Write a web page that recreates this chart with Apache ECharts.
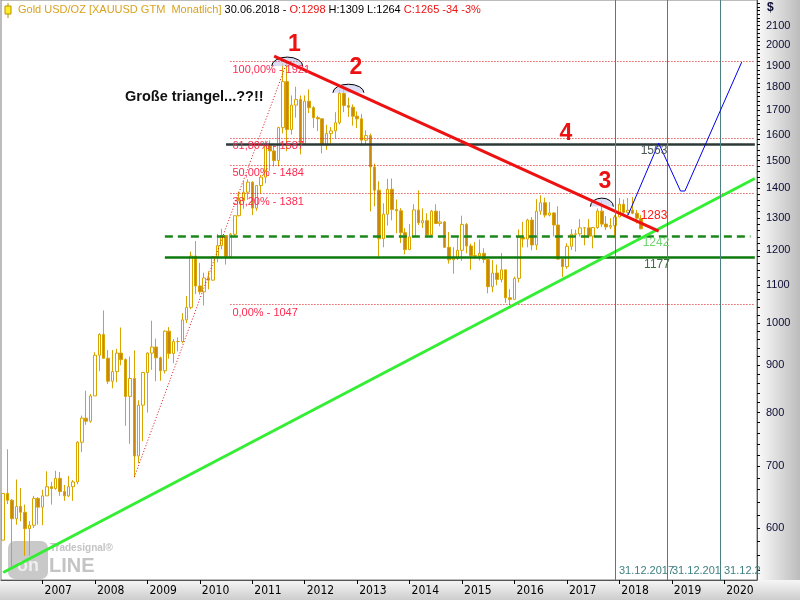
<!DOCTYPE html>
<html><head><meta charset="utf-8">
<script src="https://cdn.jsdelivr.net/npm/echarts@6/dist/echarts.min.js"></script>
<style>html,body{margin:0;padding:0;background:#fff}#c{width:800px;height:600px}</style>
</head><body><div id="c"></div>
<script>
// ---- DATA: monthly candles [open, high, low, close] ----
const g2006 = [[582,654,582,654],[654,730,637,643],[643,645,543,614],[614,677,605,633],[633,663,610,624],[624,636,560,599],[599,610,560,604],[604,650,600,646],[646,648,605,632]];
const g2007 = [[632,660,604,650],[650,691,650,665],[665,673,636,662],[662,692,660,679],[679,690,650,657],[657,668,642,650],[650,683,648,665],[665,676,642,673],[673,745,669,743],[743,794,725,789],[789,845,776,783],[783,838,780,834]];
const g2008 = [[834,930,834,923],[923,975,887,972],[972,1032,918,916],[916,935,859,865],[865,935,850,886],[886,938,863,928],[928,989,900,913],[913,916,774,833],[833,920,740,871],[871,934,681,718],[718,825,705,815],[815,885,745,884]];
const g2009 = [[884,930,800,928],[928,1006,890,942],[942,962,865,917],[917,920,866,888],[888,982,882,980],[980,990,915,927],[927,961,905,955],[955,965,932,955],[955,1025,951,1008],[1008,1070,1000,1040],[1040,1195,1035,1182],[1182,1227,1075,1097]];
const g2010 = [[1097,1162,1074,1081],[1081,1134,1045,1119],[1119,1138,1088,1113],[1113,1180,1112,1180],[1180,1249,1164,1213],[1213,1265,1202,1244],[1244,1244,1157,1181],[1181,1252,1175,1248],[1248,1307,1242,1307],[1307,1388,1305,1357],[1357,1424,1330,1386],[1386,1431,1360,1421]];
const g2011 = [[1421,1424,1309,1332],[1332,1411,1323,1409],[1409,1447,1381,1439],[1439,1576,1417,1556],[1556,1577,1462,1536],[1536,1556,1478,1500],[1500,1632,1478,1628],[1628,1913,1605,1826],[1826,1921,1535,1620],[1620,1764,1600,1722],[1722,1803,1669,1746],[1746,1764,1523,1564]];
const g2012 = [[1564,1764,1562,1739],[1739,1791,1688,1711],[1711,1718,1627,1669],[1669,1677,1614,1664],[1664,1667,1527,1561],[1561,1640,1540,1604],[1604,1630,1564,1615],[1615,1692,1585,1648],[1648,1790,1641,1773],[1773,1796,1692,1720],[1720,1755,1672,1713],[1713,1725,1636,1675]];
const g2013 = [[1675,1695,1626,1664],[1664,1684,1555,1578],[1578,1617,1562,1596],[1596,1604,1321,1476],[1476,1488,1338,1393],[1393,1424,1180,1234],[1234,1348,1208,1312],[1312,1433,1275,1396],[1396,1434,1292,1327],[1327,1361,1251,1323],[1323,1332,1221,1253],[1253,1267,1187,1201]];
const g2014 = [[1201,1280,1200,1240],[1240,1345,1239,1326],[1326,1392,1277,1284],[1284,1331,1268,1291],[1291,1315,1240,1246],[1246,1326,1240,1322],[1322,1345,1280,1282],[1282,1323,1273,1287],[1287,1290,1206,1208],[1208,1255,1160,1171],[1171,1208,1131,1175],[1175,1238,1170,1199]];
const g2015 = [[1199,1307,1168,1279],[1279,1283,1190,1212],[1212,1219,1142,1183],[1183,1224,1175,1182],[1182,1232,1169,1190],[1190,1205,1162,1172],[1172,1175,1077,1095],[1095,1170,1080,1133],[1133,1157,1099,1115],[1115,1191,1107,1142],[1142,1142,1052,1065],[1065,1088,1046,1061]];
const g2016 = [[1061,1123,1061,1118],[1118,1263,1107,1238],[1238,1287,1208,1233],[1233,1297,1208,1293],[1293,1303,1199,1215],[1215,1362,1200,1322],[1322,1375,1310,1350],[1350,1367,1301,1309],[1309,1352,1305,1316],[1316,1319,1241,1277],[1277,1338,1171,1173],[1173,1175,1122,1151]];
const g2017 = [[1151,1220,1145,1211],[1211,1264,1200,1248],[1248,1262,1195,1249],[1249,1296,1241,1268],[1268,1269,1214,1268],[1268,1296,1236,1242],[1242,1270,1205,1269],[1269,1331,1265,1322],[1322,1357,1271,1280],[1280,1306,1261,1271],[1271,1299,1264,1275],[1275,1309,1236,1303]];
const g2018 = [[1303,1366,1302,1345],[1345,1361,1307,1318],[1318,1366,1303,1325],[1325,1369,1312,1315],[1315,1326,1282,1299],[1298,1309,1264,1265]];

// categories: monthly from 2006-04 to 2020-08
const firstMonth = [2006, 4], lastMonth = [2020, 8];
const months = [];
for (let y = firstMonth[0]; y <= lastMonth[0]; y++) for (let m = 1; m <= 12; m++) {
  if (y === firstMonth[0] && m < firstMonth[1]) continue;
  if (y === lastMonth[0] && m > lastMonth[1]) continue;
  months.push(y + '-' + String(m).padStart(2, '0'));
}
// price axis tick labels
const yLabels = [600,700,800,900,1000,1100,1200,1300,1400,1500,1600,1700,1800,1900,2000,2100];
// annotation levels
const fibLevels = [[1921,'100,00% - 1921'],[1587,'61,80% - 1587'],[1484,'50,00% - 1484'],[1381,'38,20% - 1381'],[1047,'0,00% - 1047']];
const resistance4 = 1563;
const dashedSupport = 1242;
const solidSupport = 1177;
const greenTrend = [[0, 537], [172, 1434]];
const redTrend = [[62, 1946], [150, 1258]];
const fibAnchor = [[30, 681], [65, 1921]];
const blueProjection = [[143,1309],[150,1566],[155,1390],[156,1390],[169,1917]];
const domes = [[65, 1898], [79, 1776], [137, 1337]];
const yearEnds = ['2017-12', '2018-12', '2019-12'];

// ---- build ----
const allCandles = [].concat(g2006,g2007,g2008,g2009,g2010,g2011,g2012,g2013,g2014,g2015,g2016,g2017,g2018);
const candleData = months.map((m, i) => {
  const d = allCandles[i];
  return d ? [d[0], d[3], d[2], d[1]] : '-';
});
const minorTicks = [];
for (let v = 540; v <= 2220; v += 20) minorTicks.push(v);

const FONT = "'Liberation Sans', Arial, sans-serif";
const NARROW = "'Liberation Sans Narrow', 'DejaVu Sans Condensed', Arial, sans-serif";
const domeSize = [[15.5, 9], [15.5, 8.5], [11.5, 8.5]];
const lastIdx = months.length - 1;

function hLine(val, fromIdx, toIdx, style, label) {
  const a = { coord: [fromIdx, val], lineStyle: style };
  if (label) a.label = label; else a.label = { show: false };
  return [a, { coord: [toIdx, val] }];
}
const fibStyle = { color: '#e01010', width: 1, type: [1, 2] };
const fibLabel = t => ({ show: true, formatter: t, position: 'insideStartBottom', distance: [2, 3], color: '#ff2a50', fontSize: 11, fontFamily: FONT });

const markLines = [];
fibLevels.forEach(f => markLines.push(hLine(f[0], 52, lastIdx, fibStyle, fibLabel(f[1]))));
markLines.push(hLine(resistance4, 51, lastIdx, { color: '#2b3a37', width: 2.5, type: 'solid' }));
markLines.push(hLine(dashedSupport, 37, 171, { color: '#1b861b', width: 2.5, type: [8, 5] }));
markLines.push(hLine(solidSupport, 37, lastIdx, { color: '#0c7a0c', width: 2.5, type: 'solid' }));
markLines.push([{ coord: fibAnchor[0], lineStyle: { color: '#e01010', width: 1, type: [1, 2] }, label: { show: false } }, { coord: fibAnchor[1] }]);
markLines.push([{ coord: greenTrend[0], lineStyle: { color: '#33ee33', width: 3, type: 'solid' }, label: { show: false } }, { coord: greenTrend[1] }]);
markLines.push([{ coord: redTrend[0], lineStyle: { color: '#ee1111', width: 3, type: 'solid' }, label: { show: false } }, { coord: redTrend[1] }]);
yearEnds.forEach(m => markLines.push({ xAxis: m, lineStyle: { color: '#4a8080', width: 1, type: 'solid' }, label: { show: false } }));

const chart = echarts.init(document.getElementById('c'), null, { renderer: 'canvas' });
const option = {
  animation: false,
  backgroundColor: '#ffffff',
  grid: { left: 1, right: 43, top: 0, bottom: 20, show: true, borderColor: '#7a7a7a', borderWidth: 1, backgroundColor: '#ffffff', outerBoundsMode: 'none' },
  xAxis: {
    type: 'category', data: months, boundaryGap: true,
    axisLine: { show: true, lineStyle: { color: '#555', width: 1 } },
    axisTick: { show: true, alignWithLabel: true, interval: (i, v) => v.endsWith('-01'), length: 4, lineStyle: { color: '#000' } },
    axisLabel: { interval: (i, v) => v.endsWith('-01'), formatter: v => v.slice(0, 4), align: 'left', padding: [0, 0, 0, 2], margin: 5, color: '#000', fontFamily: NARROW, fontSize: 12 },
    splitLine: { show: false }
  },
  yAxis: {
    type: 'log', logBase: 10, position: 'right', min: 527, max: 2238,
    axisLine: { show: true, lineStyle: { color: '#555' } },
    axisTick: { show: true, customValues: minorTicks, length: 3, lineStyle: { color: '#000' } },
    axisLabel: { customValues: yLabels, margin: 9, color: '#0b0b33', fontFamily: FONT, fontSize: 11, formatter: v => String(Math.round(v)) },
    splitLine: { show: false }, minorTick: { show: false }
  },
  series: [
    {
      type: 'candlestick', name: 'Gold', data: candleData, barWidth: 3, z: 3,
      itemStyle: { color: '#ffffff', color0: '#C8880E', borderColor: '#D9A300', borderColor0: '#D9A300', borderWidth: 1 }
    },
    {
      type: 'custom', name: 'domes', data: domes, z: 4, encode: { x: 0, y: 1 },
      renderItem: (params, api) => {
        const c = api.coord([api.value(0), api.value(1)]);
        const s = domeSize[params.dataIndex];
        const rx = s[0], ry = s[1];
        const arc = `M ${c[0]-rx} ${c[1]} A ${rx} ${ry} 0 0 1 ${c[0]+rx} ${c[1]}`;
        return { type: 'group', children: [
          { type: 'path', shape: { pathData: arc + ' Z' }, style: { fill: 'rgba(205,210,240,0.75)', stroke: null } },
          { type: 'path', shape: { pathData: arc }, style: { fill: null, stroke: '#000', lineWidth: 1 } }
        ] };
      }
    },
    {
      type: 'line', name: 'Projektion', data: blueProjection, z: 6, symbol: 'none',
      lineStyle: { color: '#0000ee', width: 1 },
      markLine: { silent: true, symbol: ['none', 'none'], animation: false, data: markLines, z: 5 }
    }
  ],
  graphic: [
    { type: 'rect', z: -10, shape: { x: 757, y: 0, width: 43, height: 600 },
      style: { fill: new echarts.graphic.LinearGradient(0, 0, 1, 0, [{ offset: 0, color: '#fbfbfb' }, { offset: 1, color: '#bcbcbc' }]) } },
    { type: 'rect', z: -10, shape: { x: 0, y: 580, width: 800, height: 20 },
      style: { fill: new echarts.graphic.LinearGradient(0, 0, 0, 1, [{ offset: 0, color: '#f6f6f6' }, { offset: 1, color: '#cdcdcd' }]) } },
    // watermark
    { type: 'rect', z: 1, shape: { x: 8, y: 541, width: 40, height: 38, r: 7 }, style: { fill: '#c9c9c9' } },
    { type: 'text', z: 1, x: 28, y: 566, style: { text: 'on', fill: '#eeeeee', font: 'bold 18px ' + FONT, textAlign: 'center', textVerticalAlign: 'middle' } },
    { type: 'text', z: 1, x: 50, y: 548, style: { text: 'Tradesignal®', fill: '#c4c4c4', font: 'bold 10px ' + FONT, textVerticalAlign: 'middle' } },
    { type: 'text', z: 1, x: 49, y: 566, style: { text: 'LINE', fill: '#c4c4c4', font: 'bold 20px ' + FONT, textVerticalAlign: 'middle' } },
    // title icon
    { type: 'line', z: 100, shape: { x1: 8, y1: 3, x2: 8, y2: 18 }, style: { stroke: '#b89000', lineWidth: 1 } },
    { type: 'rect', z: 100, shape: { x: 5, y: 6, width: 6, height: 8 }, style: { fill: '#ffee22', stroke: '#b89000', lineWidth: 1 } },
    { type: 'text', z: 100, x: 18, y: 10, style: {
        text: '{g|Gold USD/OZ [XAUUSD GTM  Monatlich]}{k| 30.06.2018 - }{r|O:1298}{k| H:1309 L:1264 }{r|C:1265 -34 -3%}',
        textVerticalAlign: 'middle', font: '11px ' + FONT,
        rich: { g: { fill: '#D9A21F', font: '11px ' + FONT }, k: { fill: '#000', font: '11px ' + FONT }, r: { fill: '#ee1111', font: '11px ' + FONT } } } },
    { type: 'text', z: 100, x: 767, y: 8, style: { text: '$', fill: '#0b0b33', font: 'bold 12px ' + FONT, textVerticalAlign: 'middle' } },
    { type: 'text', z: 100, x: 125, y: 97, style: { text: 'Große triangel...??!!', fill: '#111', font: 'bold 14.5px ' + FONT, textVerticalAlign: 'middle' } },
    { type: 'text', z: 100, x: 294.5, y: 45, style: { text: '1', fill: '#ee1111', font: 'bold 23px ' + FONT, textAlign: 'center', textVerticalAlign: 'middle' } },
    { type: 'text', z: 100, x: 356, y: 68, style: { text: '2', fill: '#ee1111', font: 'bold 23px ' + FONT, textAlign: 'center', textVerticalAlign: 'middle' } },
    { type: 'text', z: 100, x: 605, y: 182, style: { text: '3', fill: '#ee1111', font: 'bold 23px ' + FONT, textAlign: 'center', textVerticalAlign: 'middle' } },
    { type: 'text', z: 100, x: 566, y: 134, style: { text: '4', fill: '#ee1111', font: 'bold 23px ' + FONT, textAlign: 'center', textVerticalAlign: 'middle' } },
    { type: 'text', z: 100, x: 654, y: 151, style: { text: String(resistance4), fill: '#4a5656', font: '12px ' + FONT, textAlign: 'center', textVerticalAlign: 'middle' } },
    { type: 'text', z: 100, x: 654, y: 216, style: { text: '1283', fill: '#ff1a1a', font: '12px ' + FONT, textAlign: 'center', textVerticalAlign: 'middle' } },
    { type: 'text', z: 100, x: 656, y: 243, style: { text: String(dashedSupport), fill: '#72d472', font: '12px ' + FONT, textAlign: 'center', textVerticalAlign: 'middle' } },
    { type: 'text', z: 100, x: 657, y: 265, style: { text: String(solidSupport), fill: '#3f6f3f', font: '12px ' + FONT, textAlign: 'center', textVerticalAlign: 'middle' } },
    { type: 'text', z: 100, x: 619, y: 571, style: { text: '31.12.2017', fill: '#3c7f7f', font: '11px ' + FONT, textVerticalAlign: 'middle' } },
    { type: 'text', z: 100, x: 672, y: 571, style: { text: '31.12.2018', fill: '#3c7f7f', font: '11px ' + FONT, textVerticalAlign: 'middle', width: 53, overflow: 'truncate', ellipsis: '' } },
    { type: 'text', z: 100, x: 724, y: 571, style: { text: '31.12.2019', fill: '#3c7f7f', font: '11px ' + FONT, textVerticalAlign: 'middle', width: 40, overflow: 'truncate', ellipsis: '' } }
  ]
};
chart.setOption(option);
</script>
</body></html>
